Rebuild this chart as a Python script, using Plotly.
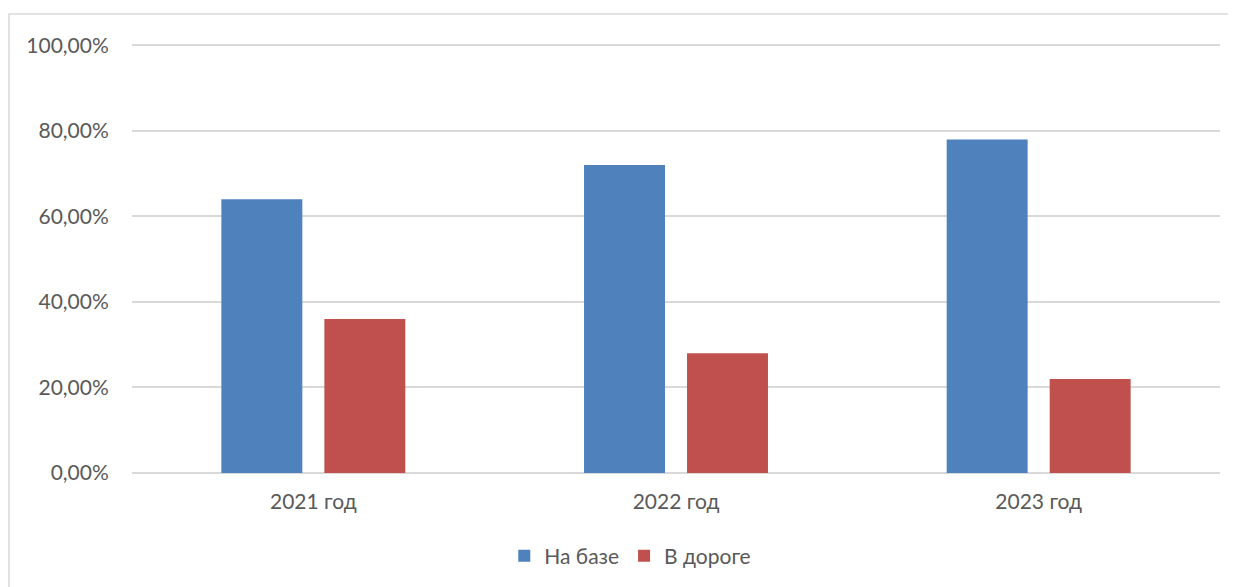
import plotly.graph_objects as go

categories = ["2021 год", "2022 год", "2023 год"]
na_baze = [64, 72, 78]
v_doroge = [36, 28, 22]
tick_vals = [0, 20, 40, 60, 80, 100]
tick_text = ["0,00%", "20,00%", "40,00%", "60,00%", "80,00%", "100,00%"]

FONT = "Lato, Open Sans, sans-serif"
FS = 21

fig = go.Figure()
fig.add_trace(go.Bar(name="На базе", x=categories, y=na_baze, marker_color="#4f81bd",
                     marker_line_width=0))
fig.add_trace(go.Bar(name="В дороге", x=categories, y=v_doroge, marker_color="#c0504d",
                     marker_line_width=0))

fig.update_layout(
    width=1236, height=587,
    margin=dict(l=124, r=24, t=36, b=122),
    paper_bgcolor="white", plot_bgcolor="white",
    barmode="group", bargap=0.432, bargroupgap=0.214,
    font=dict(family=FONT, size=FS, color="#595959"),
    showlegend=True,
    legend=dict(orientation="h", x=0.458, xanchor="center", y=-0.146, yanchor="top",
                font=dict(size=FS, color="#595959"), traceorder="normal"),
    xaxis=dict(showgrid=False, showline=False, ticks="outside", ticklen=10, tickcolor="white",
               tickfont=dict(size=FS, color="#595959")),
    yaxis=dict(range=[0, 100.3], tickvals=tick_vals, ticktext=tick_text, showgrid=True,
               gridcolor="#d9d9d9", gridwidth=1.5, zeroline=True, zerolinecolor="#d9d9d9",
               zerolinewidth=1.5, showline=False, ticks="outside", ticklen=18, tickcolor="white",
               tickfont=dict(size=FS, color="#595959")),
    shapes=[dict(type="rect", xref="paper", yref="paper",
                 x0=(1 - 124) / 1088, x1=1.1, y0=-0.4, y1=30 / 429 + 1,
                 line=dict(color="#d9d9d9", width=1.5), fillcolor="rgba(0,0,0,0)", layer="below")],
)

fig.write_html("out.html")
